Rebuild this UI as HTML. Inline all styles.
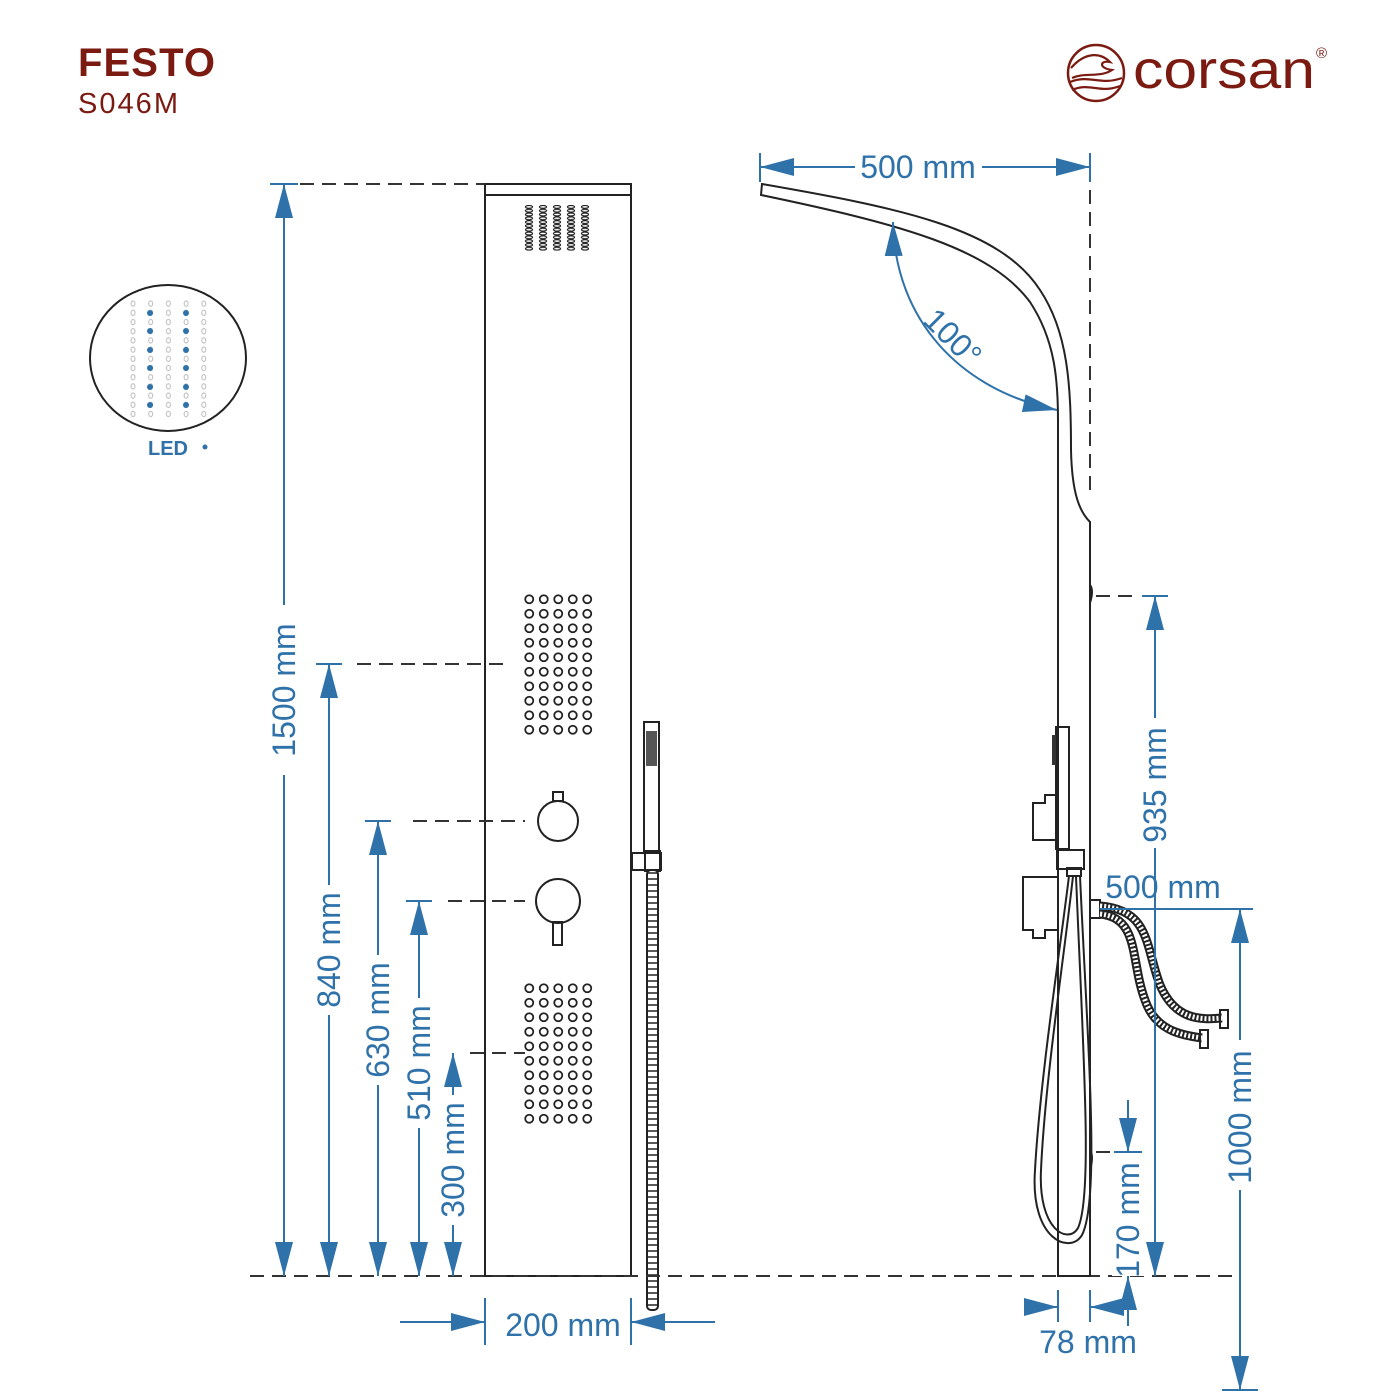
<!DOCTYPE html>
<html><head><meta charset="utf-8"><style>
html,body{margin:0;padding:0;background:#fff}
svg{display:block}
text{font-family:"Liberation Sans",Arial,sans-serif}
.d{stroke:#2f72aa;stroke-width:2;fill:none}
.k{stroke:#222;stroke-width:2;fill:none}
.dash{stroke:#333;stroke-width:2;stroke-dasharray:14 8;fill:none}
.t{fill:#2f72aa;font-size:32px;text-anchor:middle}
</style></head><body>
<svg width="1400" height="1400" viewBox="0 0 1400 1400" xmlns="http://www.w3.org/2000/svg">
<defs>
<marker id="a" viewBox="0 0 34 18" refX="34" refY="9" markerWidth="34" markerHeight="18" markerUnits="userSpaceOnUse" orient="auto-start-reverse"><path d="M0,0 L34,9 L0,18 z" fill="#2f72aa"/></marker>
<pattern id="noz" x="522" y="592" width="14.5" height="14.5" patternUnits="userSpaceOnUse"><circle cx="7.25" cy="7.25" r="4" fill="none" stroke="#222" stroke-width="1.8"/></pattern>
<pattern id="noz2" x="522" y="981" width="14.5" height="14.5" patternUnits="userSpaceOnUse"><circle cx="7.25" cy="7.25" r="4" fill="none" stroke="#222" stroke-width="1.8"/></pattern>
<pattern id="vent" x="522" y="205" width="14" height="3.8" patternUnits="userSpaceOnUse"><ellipse cx="7" cy="1.9" rx="3.6" ry="1.4" fill="none" stroke="#222" stroke-width="1.2"/></pattern>
<pattern id="led" x="124" y="299" width="17.7" height="9.2" patternUnits="userSpaceOnUse"><ellipse cx="9" cy="4.6" rx="2" ry="2.6" fill="none" stroke="#bbb" stroke-width="1"/></pattern>
<pattern id="hose" width="6" height="6" patternUnits="userSpaceOnUse"><rect width="6" height="6" fill="#fff"/><line x1="0" y1="3" x2="6" y2="3" stroke="#222" stroke-width="1.5"/></pattern>
</defs>

<text x="78" y="76" fill="#7a1a10" font-weight="bold" style="font-size:40px" textLength="137">FESTO</text>
<text x="78" y="113" fill="#7a1a10" style="font-size:29px" textLength="100">S046M</text>

<circle cx="1096" cy="73" r="28" fill="none" stroke="#7a1a10" stroke-width="2.5"/>
<path d="M1071,68 C1085,52 1100,52 1110,62 C1100,60 1098,68 1112,70 C1100,78 1085,72 1072,78 M1070,82 C1090,74 1100,86 1122,78 M1072,90 C1090,82 1100,94 1120,86" fill="none" stroke="#7a1a10" stroke-width="2.2"/>
<text x="1133" y="88" fill="#7a1a10" style="font-size:54px" textLength="182" lengthAdjust="spacingAndGlyphs">corsan</text>
<text x="1316" y="58" fill="#7a1a10" style="font-size:15px">®</text>

<ellipse cx="168" cy="358" rx="78" ry="73" fill="none" stroke="#222" stroke-width="2"/>
<rect x="124" y="299" width="88.5" height="119.6" fill="url(#led)"/>
<g fill="#2f72aa">
<circle cx="150" cy="313" r="3"/><circle cx="186" cy="313" r="3"/>
<circle cx="150" cy="331" r="3"/><circle cx="186" cy="331" r="3"/>
<circle cx="150" cy="350" r="3"/><circle cx="186" cy="350" r="3"/>
<circle cx="150" cy="368" r="3"/><circle cx="186" cy="368" r="3"/>
<circle cx="150" cy="387" r="3"/><circle cx="186" cy="387" r="3"/>
<circle cx="150" cy="405" r="3"/><circle cx="186" cy="405" r="3"/>
<circle cx="205" cy="447" r="2.5"/>
</g>
<text x="168" y="455" font-weight="bold" fill="#2f72aa" text-anchor="middle" style="font-size:20px">LED</text>

<rect x="485" y="184" width="146" height="1092" class="k"/>
<line x1="485" y1="195" x2="631" y2="195" class="k"/>
<rect x="522" y="205" width="70" height="45.6" fill="url(#vent)"/>
<rect x="522" y="592" width="72.5" height="145" fill="url(#noz)"/>
<rect x="522" y="981" width="72.5" height="145" fill="url(#noz2)"/>
<circle cx="558" cy="821" r="20" class="k"/>
<rect x="553" y="792" width="10" height="9" class="k"/>
<circle cx="558" cy="901" r="22" class="k"/>
<rect x="553" y="922" width="9" height="23" class="k"/>
<rect x="644" y="722" width="15" height="130" class="k"/>
<rect x="646" y="731" width="11" height="35" fill="#555"/>
<rect x="632" y="853" width="29" height="17" class="k"/>
<rect x="645" y="851" width="15" height="20" class="k"/>
<rect x="647" y="870" width="11" height="440" fill="url(#hose)" stroke="#222" stroke-width="2" rx="4"/>

<line x1="300" y1="184" x2="485" y2="184" class="dash"/>
<line x1="357" y1="664" x2="510" y2="664" class="dash"/>
<line x1="413" y1="821" x2="525" y2="821" class="dash"/>
<line x1="448" y1="901" x2="525" y2="901" class="dash"/>
<line x1="470" y1="1053" x2="525" y2="1053" class="dash"/>
<line x1="250" y1="1276" x2="1235" y2="1276" class="dash"/>

<g class="d">
<line x1="270" y1="184" x2="298" y2="184"/>
<line x1="284" y1="1276" x2="284" y2="184" marker-end="url(#a)" marker-start="url(#a)"/>
<line x1="316" y1="664" x2="342" y2="664"/>
<line x1="329" y1="1276" x2="329" y2="664" marker-end="url(#a)" marker-start="url(#a)"/>
<line x1="365" y1="821" x2="391" y2="821"/>
<line x1="378" y1="1276" x2="378" y2="821" marker-end="url(#a)" marker-start="url(#a)"/>
<line x1="406" y1="901" x2="432" y2="901"/>
<line x1="419" y1="1276" x2="419" y2="901" marker-end="url(#a)" marker-start="url(#a)"/>
<line x1="453" y1="1276" x2="453" y2="1053" marker-end="url(#a)" marker-start="url(#a)"/>
<line x1="485" y1="1298" x2="485" y2="1345"/>
<line x1="631" y1="1298" x2="631" y2="1345"/>
<line x1="400" y1="1322" x2="485" y2="1322" marker-end="url(#a)"/>
<line x1="715" y1="1322" x2="631" y2="1322" marker-end="url(#a)"/>
</g>
<rect x="268" y="605" width="32" height="170" fill="#fff"/>
<text class="t" transform="translate(295,690) rotate(-90)">1500 mm</text>
<rect x="313" y="885" width="32" height="130" fill="#fff"/>
<text class="t" transform="translate(340,950) rotate(-90)">840 mm</text>
<rect x="362" y="955" width="32" height="130" fill="#fff"/>
<text class="t" transform="translate(389,1020) rotate(-90)">630 mm</text>
<rect x="403" y="998" width="32" height="130" fill="#fff"/>
<text class="t" transform="translate(430,1063) rotate(-90)">510 mm</text>
<rect x="437" y="1095" width="32" height="130" fill="#fff"/>
<text class="t" transform="translate(464,1160) rotate(-90)">300 mm</text>
<text class="t" x="563" y="1336">200 mm</text>

<path d="M761,195 L762,184 C900,208 1000,228 1040,290 C1068,332 1071,385 1071,450 C1072,495 1080,512 1090,522 L1090,1276 L1058,1276 L1058,420 C1058,380 1055,340 1030,302 C990,248 900,224 761,195 z" class="k" fill="#fff"/>
<line x1="1090" y1="190" x2="1090" y2="495" class="dash"/>
<path d="M1090,585 q4,5 0,18" class="k" stroke-width="3"/>
<line x1="1096" y1="596" x2="1140" y2="596" class="dash"/>
<rect x="1056" y="727" width="13" height="122" class="k" fill="#fff"/>
<rect x="1052" y="735" width="4" height="30" fill="#333"/>
<path d="M1033,840 V803 H1045 V795 H1056 V840 z" class="k" fill="#fff"/>
<rect x="1057" y="850" width="27" height="19" class="k" fill="#fff"/>
<rect x="1067" y="868" width="14" height="8" class="k" fill="#fff"/>
<path d="M1057,877 H1023 V930 H1033 V938 H1045 V930 H1057" class="k" fill="#fff"/>
<path d="M1069,876 C1060,950 1040,1080 1035,1170 C1030,1240 1070,1255 1082,1235 C1100,1200 1088,1050 1080,876" class="k"/>
<path d="M1073,876 C1065,950 1045,1080 1041,1170 C1038,1230 1068,1245 1078,1228 C1093,1195 1083,1050 1076,876" class="k" stroke-width="1.5"/>
<path d="M1090,1150 q4,6 0,20" class="k" stroke-width="3"/>
<line x1="1096" y1="1152" x2="1140" y2="1152" class="dash"/>
<rect x="1090" y="900" width="10" height="18" class="k" fill="#fff"/>
<path d="M1100,906 C1150,910 1145,945 1160,985 C1175,1020 1200,1020 1222,1018" fill="none" stroke="#222" stroke-width="9"/>
<path d="M1100,906 C1150,910 1145,945 1160,985 C1175,1020 1200,1020 1222,1018" fill="none" stroke="#fff" stroke-width="5" stroke-dasharray="2 2"/>
<path d="M1100,914 C1140,918 1130,960 1145,1000 C1155,1030 1180,1035 1202,1038" fill="none" stroke="#222" stroke-width="9"/>
<path d="M1100,914 C1140,918 1130,960 1145,1000 C1155,1030 1180,1035 1202,1038" fill="none" stroke="#fff" stroke-width="5" stroke-dasharray="2 2"/>
<rect x="1220" y="1010" width="8" height="18" class="k" fill="#fff"/>
<rect x="1200" y="1030" width="8" height="18" class="k" fill="#fff"/>

<g class="d">
<line x1="760" y1="153" x2="760" y2="182"/>
<line x1="1090" y1="153" x2="1090" y2="182"/>
<line x1="855" y1="167" x2="760" y2="167" marker-end="url(#a)"/>
<line x1="982" y1="167" x2="1090" y2="167" marker-end="url(#a)"/>
<path d="M893,222 C895,320 960,390 1057,410" marker-start="url(#a)" marker-end="url(#a)"/>
<line x1="1142" y1="596" x2="1168" y2="596"/>
<line x1="1155" y1="1276" x2="1155" y2="596" marker-start="url(#a)" marker-end="url(#a)"/>
<line x1="1100" y1="909" x2="1253" y2="909"/>
<line x1="1240" y1="1276" x2="1240" y2="909" marker-end="url(#a)"/>
<line x1="1240" y1="1215" x2="1240" y2="1390" marker-end="url(#a)"/>
<line x1="1222" y1="1390" x2="1258" y2="1390"/>
<line x1="1128" y1="1100" x2="1128" y2="1152" marker-end="url(#a)"/>
<line x1="1114" y1="1152" x2="1142" y2="1152"/>
<line x1="1128" y1="1326" x2="1128" y2="1276" marker-end="url(#a)"/>
<line x1="1058" y1="1290" x2="1058" y2="1322"/>
<line x1="1090" y1="1290" x2="1090" y2="1322"/>
<line x1="1024" y1="1307" x2="1058" y2="1307" marker-end="url(#a)"/>
<line x1="1130" y1="1307" x2="1090" y2="1307" marker-end="url(#a)"/>
</g>
<text class="t" x="918" y="178">500 mm</text>
<text class="t" transform="translate(945,345) rotate(45)">100°</text>
<rect x="1139" y="718" width="32" height="130" fill="#fff"/>
<text class="t" transform="translate(1166,785) rotate(-90)">935 mm</text>
<text class="t" x="1163" y="898">500 mm</text>
<rect x="1224" y="1040" width="32" height="150" fill="#fff"/>
<text class="t" transform="translate(1251,1117) rotate(-90)">1000 mm</text>
<rect x="1112" y="1158" width="32" height="118" fill="#fff"/>
<text class="t" transform="translate(1139,1220) rotate(-90)">170 mm</text>
<text class="t" x="1088" y="1353">78 mm</text>
</svg>
</body></html>
